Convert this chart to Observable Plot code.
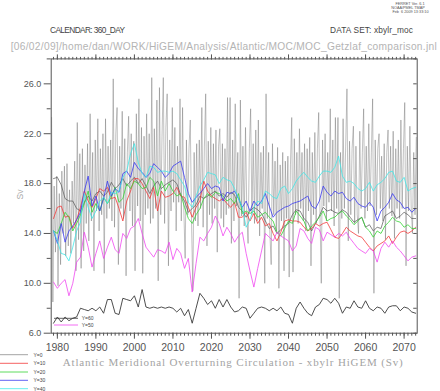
<!DOCTYPE html>
<html><head><meta charset="utf-8">
<script src="https://cdn.jsdelivr.net/npm/d3@7"></script>
<script src="https://cdn.jsdelivr.net/npm/@observablehq/plot@0.6"></script>
<style>body{margin:0;background:#fff;} svg{display:block}</style>
</head><body><div id="chart"></div>
<script>
// ---- data (annual means, 1979..2073) ----
const firstYear = 1979;
const y0Annual = [18.4,18.5,17.9,16.8,16.6,16.6,16.0,15.8,16.5,17.0,
  16.6,17.2,17.4,17.0,17.3,18.1,17.6,17.9,18.4,17.8,
  18.2,18.5,18.0,18.4,17.8,17.2,17.8,18.2,17.6,17.9,
  18.1,18.3,18.0,17.1,16.6,15.7,16.0,16.3,17.0,16.8,
  17.0,17.2,17.4,17.0,17.2,16.9,17.3,17.1,16.1,15.8,
  15.3,15.8,16.1,15.9,15.6,15.0,14.4,14.6,14.0,14.3,
  14.6,14.8,15.5,15.9,15.8,15.2,14.9,14.2,14.8,15.4,
  16.1,15.8,15.9,15.7,15.6,15.9,15.7,15.3,14.9,15.1,
  15.3,14.5,14.7,14.2,14.5,14.4,15.4,15.6,15.8,15.2,
  15.4,15.7,15.5,15.2,15.2];
const y10 = [15.2,16.1,16.2,15.3,15.4,14.4,15.1,16.1,17.4,16.6,16.1,16.8,17.6,17.4,17.7,16.8,16.9,16.0,15.0,16.6,17.4,18.4,18.4,18.0,17.4,16.8,17.7,15.8,17.4,16.9,
  17.0,17.2,17.7,17.0,16.9,16.1,15.3,16.1,16.6,18.2,17.4,17.0,16.8,16.6,16.8,16.4,16.1,16.5,15.3,15.3,15.7,15.0,15.6,14.8,15.3,14.6,14.8,14.0,13.4,14.1,15.0,15.1,15.0,
  15.0,14.9,14.5,14.2,14.4,14.8,14.6,14.8,14.9,14.3,13.7,13.6,14.0,14.5,14.2,14.0,13.8,13.7,13.3,12.9,12.6,13.0,13.2,13.4,13.8,13.2,13.7,14.1,14.2,14.0,14.2,14.5];
const y20 = [14.2,14.0,14.8,15.7,15.3,14.2,14.8,15.5,16.4,17.4,15.7,16.4,15.8,16.9,16.4,16.9,17.7,16.5,16.8,18.0,17.6,18.2,18.0,17.6,17.7,18.5,18.2,17.0,18.2,17.4,
  18.0,17.4,17.0,17.2,16.1,15.2,14.8,15.5,16.0,16.8,17.2,16.9,17.3,17.2,17.0,16.6,16.8,16.4,17.2,15.6,15.8,15.6,15.8,15.3,15.5,15.7,15.3,15.0,14.1,13.8,14.4,15.0,14.8,
  15.8,15.4,15.0,14.2,14.6,14.9,15.3,15.8,15.0,15.2,15.3,15.6,15.8,15.4,15.1,14.7,15.0,15.3,14.5,14.2,13.7,14.2,14.0,14.6,14.9,15.3,15.0,14.9,14.5,14.7,14.4,14.4];
const y30 = [14.2,13.2,14.8,13.3,14.2,14.6,15.1,15.7,17.4,18.6,16.2,17.0,15.8,16.8,18.2,17.0,17.6,17.3,18.8,19.0,18.5,19.7,19.2,18.9,18.5,18.8,19.6,19.3,19.0,18.5,
  18.8,19.4,19.6,19.8,18.5,17.2,16.5,16.9,17.2,17.6,18.0,17.6,17.8,17.7,16.6,17.3,17.2,17.4,16.8,16.1,16.6,15.8,16.6,16.2,16.6,17.2,16.2,15.3,15.7,15.9,16.1,16.2,16.4,
  16.5,16.6,16.8,17.0,16.2,16.0,16.6,17.8,17.3,17.0,17.4,17.2,17.3,16.8,16.6,16.9,16.4,16.2,16.1,16.5,16.1,15.0,15.8,16.1,16.5,17.2,16.7,16.5,16.0,16.1,15.7,16.0];
const y40 = [14.2,13.4,12.4,12.3,11.8,12.9,14.2,14.9,17.2,16.1,15.2,15.8,16.6,16.9,16.4,17.3,17.2,17.4,18.5,19.0,20.4,21.2,19.7,18.8,18.5,19.4,19.3,18.9,19.0,19.0,
  18.9,19.0,18.8,18.3,17.8,16.5,16.1,17.0,17.8,18.3,18.9,18.8,18.7,18.0,18.5,18.3,18.2,17.6,16.8,16.1,14.5,15.1,16.1,16.6,16.4,17.4,17.2,16.9,16.8,17.6,17.8,17.2,17.6,
  18.2,18.6,18.9,18.5,18.2,18.1,18.6,19.0,19.0,18.9,19.3,20.2,18.6,18.1,18.2,18.0,17.6,17.4,17.6,18.1,17.4,17.9,18.1,18.4,18.9,19.0,18.2,18.1,18.5,17.4,17.6,17.7];
const y50 = [10.1,9.6,10.0,10.3,9.0,10.0,11.7,12.1,14.1,12.9,11.3,12.4,13.4,12.0,12.9,13.7,12.7,12.4,14.0,13.6,14.4,14.6,15.2,14.0,12.9,
  12.5,12.1,12.7,12.6,12.4,13.3,11.9,12.8,12.4,11.2,12.0,9.3,11.6,13.7,13.4,14.0,14.5,15.4,14.8,13.8,14.5,14.0,13.3,13.8,14.1,12.4,11.0,9.7,11.2,12.6,14.0,13.7,13.4,14.1,13.8,13.6,13.4,12.6,13.0,
  14.4,14.2,13.6,13.2,14.5,14.3,13.4,14.1,13.9,13.7,14.0,13.8,14.1,13.6,13.2,12.8,12.6,12.4,12.8,12.6,11.7,12.8,13.3,12.9,13.4,12.9,12.6,12.2,11.8,12.1,12.2];
const y60 = [6.8,7.3,6.9,7.3,7.0,7.2,7.3,8.0,7.9,7.8,8.0,7.8,8.1,7.6,8.7,8.7,7.6,7.5,8.8,8.7,8.6,9.0,8.1,9.5,8.1,
  8.0,8.1,8.0,8.1,8.0,8.1,8.0,7.7,8.0,7.4,7.9,6.8,8.0,9.2,8.8,8.3,8.6,8.0,8.7,8.1,8.7,8.1,7.7,7.8,8.1,8.0,7.2,7.6,8.0,8.1,8.0,7.8,8.0,7.8,8.1,7.6,7.5,6.8,8.0,
  8.5,8.0,7.6,7.4,8.1,8.3,8.8,8.7,8.4,8.8,8.4,7.6,8.1,8.0,8.6,8.1,8.0,8.6,8.0,7.8,8.1,8.0,7.6,8.1,8.2,8.2,7.8,8.1,8.0,7.7,7.6];
// Y=0 sub-annual record, three samples per year starting 1978.5
const y0Start = 1978.5;
const y0Sub = [
  23.3,8.5,17.8, 12.5,18.6,9.8, 17.2,11.5,19.0, 14.0,19.4,12.2, 19.6,13.0,17.5,
  12.4,18.2,14.8, 19.8,11.0,22.9, 13.5,20.4,11.2, 20.8,12.6,19.5, 14.8,21.2,13.4,
  23.6,15.0,20.5, 11.0,21.5,15.8, 23.2,14.2,20.8, 15.5,22.0,10.8, 23.2,15.2,21.0,
  16.0,21.5,15.0, 26.4,14.5,22.0, 24.1,11.5,21.0, 16.0,23.8,15.2, 21.6,10.6,20.5,
  23.4,15.8,22.0, 14.6,21.4,11.0, 23.6,16.2,24.8, 15.0,22.5,10.8, 21.8,15.5,23.6,
  16.0,22.0,14.8, 26.5,15.2,22.4, 16.0,24.7,10.2, 25.7,15.5,21.8, 26.5,14.8,22.5,
  25.2,11.4,21.5, 15.8,24.1,16.5, 22.5,14.2,21.0, 16.5,24.8,15.0, 24.1,15.8,12.0,
  21.5,15.5,20.8, 23.1,14.8,9.4, 20.5,15.0,21.2, 14.6,21.5,16.0, 24.1,14.5,21.0,
  25.2,13.0,21.4, 15.5,22.5,14.8, 21.2,16.0,22.3, 12.5,21.0,22.4, 15.2,21.2,14.5,
  20.8,15.5,24.9, 16.0,24.9,13.2, 21.5,15.0,24.4, 16.2,20.5,8.8, 24.7,15.4,21.0,
  14.6,22.5,15.8, 13.2,20.8,24.0, 15.5,21.2,14.8, 22.3,15.0,23.1, 13.8,20.5,16.0,
  21.0,10.0,25.2, 15.2,20.5,14.0, 11.5,21.2,15.5, 19.8,14.2,20.9, 9.6,19.5,15.0,
  20.5,11.0,19.8, 15.2,20.2,10.5, 19.5,23.3,10.9, 21.6,15.5,20.5, 14.8,22.4,16.0,
  20.5,15.0,21.2, 14.2,20.8,15.8, 21.7,11.4,20.5, 15.5,22.1,14.8, 20.8,23.7,15.6,
  10.0,21.5,16.2, 22.0,15.0,20.5, 16.5,24.0,15.8, 21.5,14.6,23.3, 16.0,23.3,8.8,
  20.5,15.2,23.2, 16.0,21.0,25.6, 13.4,21.4,15.5, 20.8,22.6,14.8, 21.0,15.5,14.0,
  22.2,16.0,20.5, 24.0,15.2,21.0, 15.8,22.8,16.2, 20.5,24.8,9.2, 21.5,15.5,20.8,
  22.0,16.0,20.2, 15.0,21.2,13.5, 20.5,22.3,16.0, 21.0,15.4,22.2, 13.6,20.8,16.0,
  21.5,15.2,23.1, 16.0,20.8,24.5, 11.4,21.0,15.8, 22.6,16.2,14.0, 20.5,15.5,21.7];

const xTickLabels = [1980,1990,2000,2010,2020,2030,2040,2050,2060,2070];
const yTickLabels = [6,10,14,18,22,26];
const yMinorTicks = [8,12,16,20,24,28];
const seriesNames = ["Y=0","Y=10","Y=20","Y=30","Y=40","Y=50","Y=60"];
const seriesColors = ["#8c8c8c","#f23a3a","#35d335","#3a3af0","#3fe9e9","#f046f0","#3a3a3a"];

// ---- build tables ----
const annualSets = [y0Annual,y10,y20,y30,y40,y50,y60];
const annual = annualSets.map((arr,k)=>arr.map((v,i)=>({year:firstYear+i, v, name:seriesNames[k]})));
const sub = y0Sub.map((v,i)=>({t:y0Start+i/3, v}));
const years = d3.range(1979, 2074);
const xMin = 1978.4, xMax = 2073.4;

const axisColor = "#555";
const chart = Plot.plot({
  width: 440, height: 391,
  marginLeft: 50.7, marginRight: 23.3, marginTop: 58.4, marginBottom: 58.3,
  x: {domain:[xMin,xMax]},
  y: {domain:[6,28]},
  style: {background:"#fff", fontFamily:"Liberation Sans, Arial, sans-serif", color:"#555"},
  marks: [
    Plot.line(sub, {x:"t", y:"v", stroke:"#666", strokeWidth:0.5, strokeOpacity:0.8}),
    Plot.line(annual[0], {x:"year", y:"v", stroke:"#555", strokeWidth:0.7}),
    Plot.line(annual[1], {x:"year", y:"v", stroke:seriesColors[1], strokeWidth:0.8}),
    Plot.line(annual[2], {x:"year", y:"v", stroke:seriesColors[2], strokeWidth:0.8}),
    Plot.line(annual[3], {x:"year", y:"v", stroke:seriesColors[3], strokeWidth:0.8}),
    Plot.line(annual[4], {x:"year", y:"v", stroke:seriesColors[4], strokeWidth:0.8}),
    Plot.line(annual[5], {x:"year", y:"v", stroke:seriesColors[5], strokeWidth:0.8}),
    Plot.line(annual[6], {x:"year", y:"v", stroke:seriesColors[6], strokeWidth:0.9}),
    Plot.frame({stroke:axisColor, strokeWidth:1}),
    // left axis
    Plot.axisY({anchor:"left", ticks:yTickLabels, tickSize:7, tickPadding:3, tickFormat:d3.format(".1f"), fontSize:9, label:null, stroke:axisColor, color:"#555"}),
    Plot.axisY({anchor:"left", ticks:yMinorTicks, tickSize:4, tickFormat:()=>"", label:null, stroke:axisColor}),
    // right axis inward ticks
    Plot.ruleY(yTickLabels.concat(yMinorTicks), {x1:xMax, x2:xMax-0.9, stroke:axisColor}),
    // bottom axis
    Plot.axisX({anchor:"bottom", ticks:years, tickSize:3, tickFormat:()=>"", label:null, stroke:axisColor}),
    Plot.axisX({anchor:"bottom", ticks:xTickLabels, tickSize:6, tickPadding:4.6, tickFormat:d=>String(d), fontSize:10.5, label:null, stroke:axisColor, color:"#555"}),
    // top axis ticks
    Plot.axisX({anchor:"top", ticks:years, tickSize:2.5, tickFormat:()=>"", label:null, stroke:axisColor}),
    Plot.axisX({anchor:"top", ticks:xTickLabels, tickSize:5, tickFormat:()=>"", label:null, stroke:axisColor})
  ]
});
document.getElementById("chart").appendChild(chart);

// ---- annotations ----
const svg = d3.select(chart);
function txt(x, y, s, o={}) {
  const t = svg.append("text").attr("x",x).attr("y",y).text(s)
    .attr("font-family", o.family || "Liberation Sans, Arial, sans-serif")
    .attr("font-size", o.size || 9)
    .attr("fill", o.fill || "#333")
    .attr("text-anchor", o.anchor || "start");
  if (o.len) t.attr("textLength", o.len).attr("lengthAdjust", o.adjust || "spacing");
  if (o.rotate) t.attr("transform", `rotate(${o.rotate},${x},${y})`);
  return t;
}
txt(410, 5, "FERRET Ver. 6.1", {size:3.8, anchor:"middle", fill:"#555"});
txt(408, 9.2, "NOAA/PMEL TMAP", {size:3.8, anchor:"middle", fill:"#555"});
txt(410.5, 13.4, "Feb  6 2009 13:33:10", {size:3.8, anchor:"middle", fill:"#555"});
txt(50, 33, "CALENDAR: 360_DAY", {size:8.3, len:75, fill:"#444"});
txt(330, 33, "DATA SET: xbylr_moc", {size:8.3, len:83, fill:"#444"});
txt(10.7, 50, "[06/02/09]/home/dan/WORK/HiGEM/Analysis/Atlantic/MOC/MOC_Getzlaf_comparison.jnl", {size:10.2, len:426, fill:"#b4b4b4"});
txt(22.5, 194.5, "Sv", {size:8.5, anchor:"middle", rotate:-90, fill:"#aaa"});
txt(62.7, 366, "Atlantic Meridional Overturning Circulation - xbylr HiGEM (Sv)", {size:11, len:340, fill:"#a3a3a3", family:"Liberation Serif, Times New Roman, serif"});

// legend below the plot
const legendBelow = [0,1,2,3,4];
const legendY = [354.7,363.3,372,380.3,388.7];
legendBelow.forEach((k,i)=>{
  svg.append("line").attr("x1",0).attr("x2",28).attr("y1",legendY[i]).attr("y2",legendY[i])
    .attr("stroke", seriesColors[k]).attr("stroke-width",0.8);
  txt(33.5, legendY[i]+1.8, seriesNames[k], {size:5, fill:"#444"});
});
// legend inside the plot
const inside = [[6,318.3],[5,325]];
inside.forEach(([k,y])=>{
  svg.append("line").attr("x1",54).attr("x2",78).attr("y1",y).attr("y2",y)
    .attr("stroke", seriesColors[k]).attr("stroke-width",0.8);
  txt(81.7, y+1.8, seriesNames[k], {size:5, fill:"#444"});
});
</script>
</body></html>
